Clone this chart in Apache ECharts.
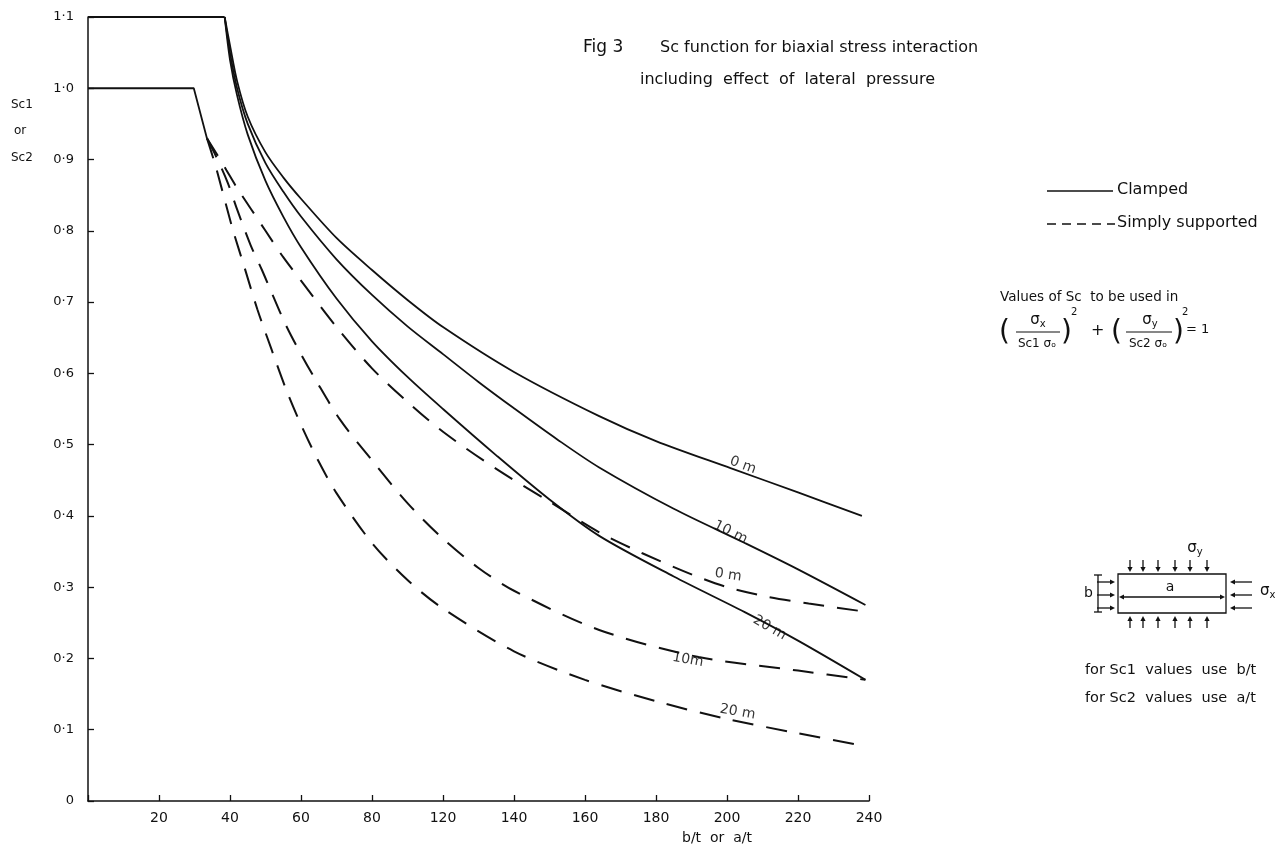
<!DOCTYPE html>
<html>
<head>
<meta charset="utf-8">
<title>Fig 3 Sc function</title>
<script src="https://cdn.jsdelivr.net/npm/echarts@6/dist/echarts.min.js"></script>
<style>
  html, body { margin: 0; padding: 0; background: #fff; }
  #chart { width: 1286px; height: 851px; }
</style>
</head>
<body>
<div id="chart"></div>
<script>
// printed tick labels (the original axis skips 100, so labels past 80 read 20 high)
const xTickLabels = ['', '20', '40', '60', '80', '120', '140', '160', '180', '200', '220', '240']
const yTickLabels = ['0', '0·1', '0·2', '0·3', '0·4', '0·5', '0·6', '0·7', '0·8', '0·9', '1·0', '1·1']

// x in axis position units (0..220), y = Sc
const clampedTop = [[0, 1.1], [38.5, 1.1]]
const clamped0m = [[38.5, 1.1], [40, 1.06], [42, 1.01], [45, 0.96], [50, 0.91], [55, 0.875], [60, 0.845],
  [70, 0.79], [80, 0.745], [90, 0.703], [100, 0.665], [120, 0.602], [144, 0.54], [160, 0.505],
  [181, 0.467], [200, 0.433], [218, 0.40]]
const clamped10m = [[38.5, 1.1], [40, 1.05], [42, 1.0], [45, 0.95], [50, 0.895], [55, 0.855], [60, 0.82],
  [70, 0.76], [80, 0.71], [90, 0.666], [100, 0.627], [110, 0.588], [120, 0.551], [132, 0.508],
  [144, 0.468], [165, 0.41], [185, 0.362], [200, 0.325], [219, 0.275]]
const clamped20m = [[38.5, 1.1], [40, 1.04], [42, 0.99], [45, 0.935], [50, 0.87], [55, 0.82], [60, 0.777],
  [70, 0.705], [80, 0.645], [90, 0.595], [100, 0.55], [115, 0.485], [130, 0.423], [144, 0.372],
  [165, 0.315], [185, 0.265], [200, 0.225], [219, 0.17]]

const simpleTop = [[0, 1.0], [29.8, 1.0], [33.5, 0.93]]
const simple0m = [[33.5, 0.93], [36, 0.91], [39, 0.885], [42, 0.86], [46, 0.83], [50, 0.8], [55, 0.763],
  [60, 0.73], [70, 0.665], [80, 0.607], [90, 0.56], [100, 0.518], [115, 0.466], [130, 0.42],
  [144, 0.377], [156, 0.348], [170, 0.318], [180, 0.30], [191, 0.287], [203, 0.277], [217, 0.267]]
const simple10m = [[33.5, 0.93], [36.5, 0.9], [39.4, 0.867], [42, 0.83], [45.8, 0.78], [49, 0.745],
  [52, 0.71], [56, 0.665], [60, 0.627], [64, 0.592], [71, 0.535], [80, 0.478], [90, 0.418],
  [100, 0.368], [110, 0.327], [120, 0.295], [144, 0.24], [172, 0.202], [200, 0.183], [219, 0.17]]
const simple20m = [[33.5, 0.93], [36, 0.89], [40.6, 0.805], [44, 0.75], [47.7, 0.69], [51.6, 0.635],
  [56, 0.575], [60, 0.528], [64.8, 0.478], [70, 0.432], [80, 0.362], [90, 0.31], [100, 0.27],
  [120, 0.21], [140, 0.17], [160, 0.14], [180, 0.115], [200, 0.095], [219, 0.077]]

// curve captions: [x, y, text, rotate]
const curveLabels = [
  [184.5, 0.471, '0 m', -20],
  [181, 0.377, '10 m', -26],
  [192, 0.243, '20 m', -30],
  [180.3, 0.317, '0 m', -8],
  [169, 0.198, '10m', -10],
  [183, 0.125, '20 m', -10]
]

const ink = '#111'
const font = 'DejaVu Sans'
const dash = [21, 13]

const dom = document.getElementById('chart')
const chart = echarts.init(dom)

function solid (data) {
  return { type: 'line', data: data, showSymbol: false, smooth: 0.3,
    lineStyle: { color: ink, width: 1.8 }, silent: true }
}
function dashed (data) {
  return { type: 'line', data: data, showSymbol: false, smooth: 0.3,
    lineStyle: { color: ink, width: 2, type: dash }, silent: true }
}
function plain (data) {
  return { type: 'line', data: data, showSymbol: false, lineStyle: { color: ink, width: 1.8 }, silent: true }
}

function txt (x, y, text, size, align) {
  return { type: 'text', x: x, y: y,
    style: { text: text, fontSize: size || 13, fontFamily: font, fill: ink,
      align: align || 'left', verticalAlign: 'middle' } }
}
function seg (x1, y1, x2, y2, w, lineDash) {
  return { type: 'line', shape: { x1: x1, y1: y1, x2: x2, y2: y2 },
    style: { stroke: ink, lineWidth: w || 1.3, lineDash: lineDash || null } }
}
// small arrow from (x1,y1) to (x2,y2), head at the end
function arrow (x1, y1, x2, y2) {
  const a = Math.atan2(y2 - y1, x2 - x1)
  const L = 5, W = 2.6
  const bx = x2 - L * Math.cos(a), by = y2 - L * Math.sin(a)
  return [
    seg(x1, y1, bx, by, 1.3),
    { type: 'polygon', shape: { points: [[x2, y2],
      [bx + W * Math.sin(a), by - W * Math.cos(a)], [bx - W * Math.sin(a), by + W * Math.cos(a)]] },
      style: { fill: ink } }
  ]
}
function sigma (x, y, sub, align) {
  return { type: 'text', x: x, y: y, style: { text: '{s|σ}{b|' + sub + '}', rich: rich,
    align: align || 'left', verticalAlign: 'middle' } }
}
const rich = {
  s: { fontSize: 15, fontFamily: font, fill: ink },
  b: { fontSize: 10, fontFamily: font, fill: ink, padding: [9, 0, 0, 0] }
}

const graphics = []
// title
graphics.push(txt(583, 48, 'Fig 3', 17))
graphics.push(txt(660, 48, 'Sc function for biaxial stress interaction', 16))
graphics.push(txt(640, 80, 'including  effect  of  lateral  pressure', 16))
// y axis name
graphics.push(txt(11, 105, 'Sc1', 12))
graphics.push(txt(14, 131, 'or', 12))
graphics.push(txt(11, 158, 'Sc2', 12))
// x axis name
graphics.push(txt(682, 838, 'b/t  or  a/t', 14))
// legend
graphics.push(seg(1047, 191, 1113, 191, 1.3))
graphics.push(txt(1117, 190, 'Clamped', 16))
graphics.push(seg(1047, 224, 1115, 224, 1.6, [9, 6]))
graphics.push(txt(1117, 223, 'Simply supported', 16))
// formula
graphics.push(txt(1000, 297, 'Values of Sc  to be used in', 13.5))
graphics.push(txt(999, 333, '(', 28))
graphics.push(sigma(1038, 320, 'x', 'center'))
graphics.push(seg(1016, 332, 1060, 332, 1.2))
graphics.push(txt(1037, 344, 'Sc1 σₒ', 12, 'center'))
graphics.push(txt(1061, 333, ')', 28))
graphics.push(txt(1071, 312, '2', 10))
graphics.push(txt(1091, 331, '+', 16))
graphics.push(txt(1111, 333, '(', 28))
graphics.push(sigma(1150, 320, 'y', 'center'))
graphics.push(seg(1126, 332, 1172, 332, 1.2))
graphics.push(txt(1148, 344, 'Sc2 σₒ', 12, 'center'))
graphics.push(txt(1173, 333, ')', 28))
graphics.push(txt(1182, 312, '2', 10))
graphics.push(txt(1186, 330, '= 1', 13))
// plate diagram
graphics.push(sigma(1195, 548, 'y', 'center'))
graphics.push({ type: 'rect', shape: { x: 1118, y: 574, width: 108, height: 39 }, style: { fill: 'none', stroke: ink, lineWidth: 1.3 } })
graphics.push(txt(1170, 587, 'a', 14, 'center'))
arrow(1172, 597, 1119, 597).forEach(g => graphics.push(g))
arrow(1172, 597, 1225, 597).forEach(g => graphics.push(g))
;[1130, 1143, 1158, 1175, 1190, 1207].forEach(x => {
  arrow(x, 560, x, 572).forEach(g => graphics.push(g))
  arrow(x, 628, x, 616).forEach(g => graphics.push(g))
})
;[582, 595, 608].forEach(y => {
  arrow(1097, y, 1115, y).forEach(g => graphics.push(g))
  arrow(1252, y, 1230, y).forEach(g => graphics.push(g))
})
graphics.push(sigma(1260, 591, 'x'))
graphics.push(txt(1084, 593, 'b', 14))
graphics.push(seg(1098, 575, 1098, 612, 1.3))
graphics.push(seg(1094, 575, 1102, 575, 1.3))
graphics.push(seg(1094, 612, 1102, 612, 1.3))
graphics.push(txt(1085, 670, 'for Sc1  values  use  b/t', 14.5))
graphics.push(txt(1085, 698, 'for Sc2  values  use  a/t', 14.5))

const option = {
  backgroundColor: '#fff',
  animation: false,
  grid: { left: 88, right: 417, top: 17, bottom: 50, containLabel: false },
  xAxis: {
    type: 'value', min: 0, max: 220, interval: 20,
    axisLine: { lineStyle: { color: ink, width: 1.5 } },
    axisTick: { inside: true, length: 6, lineStyle: { color: ink, width: 1.3 } },
    axisLabel: { color: ink, fontSize: 14, fontFamily: font, margin: 10,
      formatter: v => xTickLabels[Math.round(v / 20)] },
    splitLine: { show: false }
  },
  yAxis: {
    type: 'value', min: 0, max: 1.1, interval: 0.1,
    axisLine: { show: true, lineStyle: { color: ink, width: 1.5 } },
    axisTick: { show: true, inside: true, length: 6, lineStyle: { color: ink, width: 1.3 } },
    axisLabel: { color: ink, fontSize: 13, fontFamily: font, margin: 14,
      formatter: v => yTickLabels[Math.round(v * 10)] },
    splitLine: { show: false }
  },
  graphic: graphics,
  series: [
    plain(clampedTop),
    solid(clamped0m),
    solid(clamped10m),
    solid(clamped20m),
    plain(simpleTop),
    dashed(simple0m),
    dashed(simple10m),
    dashed(simple20m),
    {
      type: 'scatter', silent: true, symbolSize: 1, itemStyle: { color: 'rgba(0,0,0,0)' },
      data: curveLabels.map(d => ({ value: [d[0], d[1]], name: d[2],
        label: { show: true, rotate: d[3], position: 'inside', formatter: d[2],
          color: '#000', fontSize: 14, fontFamily: font } }))
    }
  ]
}
chart.setOption(option)
window.addEventListener('resize', () => chart.resize())
</script>
</body>
</html>
